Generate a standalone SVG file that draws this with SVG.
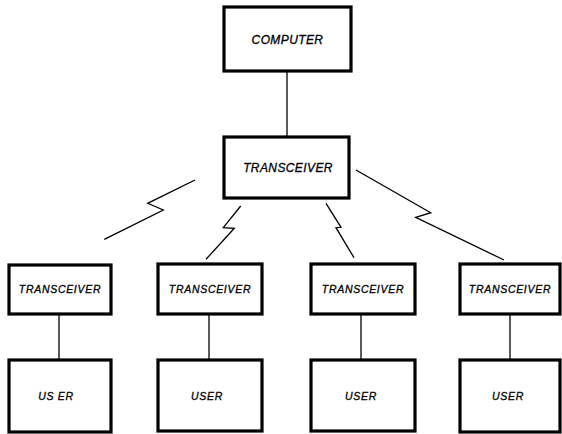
<svg xmlns="http://www.w3.org/2000/svg" width="562" height="434" viewBox="0 0 562 434">
<style>
.box{fill:#fff;stroke:#000;stroke-width:3.2}
.ln{fill:none;stroke:#000;stroke-width:1.3;stroke-linejoin:miter}
text{font-family:"Liberation Sans",Arial,sans-serif;font-style:italic;text-anchor:middle;fill:#000;stroke:#000;stroke-width:0.3}
.big{font-size:12px;letter-spacing:0.4px}
.sm{font-size:10.5px;letter-spacing:0.7px}
</style>
<rect width="562" height="434" fill="#fff"/>
<g id="connectors">
<line class="ln" x1="287" y1="71" x2="287" y2="137"/>
<polyline class="ln" points="195,180 147.7,203.3 163.3,210 104.3,239.3"/>
<polyline class="ln" points="240.7,206 223.3,227.7 234.3,228.3 206,259.3"/>
<polyline class="ln" points="326,203.3 341,227.3 336,227.7 354,257.7"/>
<polyline class="ln" points="356,170 430.7,212.7 415.7,217.3 504,260"/>
<line class="ln" x1="59" y1="314" x2="59" y2="360"/>
<line class="ln" x1="209" y1="314" x2="209" y2="360"/>
<line class="ln" x1="361" y1="314" x2="361" y2="360"/>
<line class="ln" x1="510" y1="314" x2="510" y2="360"/>
</g>
<g id="computer">
<rect class="box" x="224" y="7" width="127" height="64"/>
<text class="big" x="287.5" y="44">COMPUTER</text>
</g>
<g id="transceiver-main">
<rect class="box" x="224" y="137" width="125" height="61"/>
<text class="big" x="288" y="172">TRANSCEIVER</text>
</g>
<g id="transceiver-1">
<rect class="box" x="9" y="265" width="102" height="49"/>
<text class="sm" x="60" y="293">TRANSCEIVER</text>
</g>
<g id="transceiver-2">
<rect class="box" x="158" y="264" width="104" height="50"/>
<text class="sm" x="210" y="293">TRANSCEIVER</text>
</g>
<g id="transceiver-3">
<rect class="box" x="311" y="264" width="104" height="50"/>
<text class="sm" x="363" y="293">TRANSCEIVER</text>
</g>
<g id="transceiver-4">
<rect class="box" x="460" y="264" width="100" height="50"/>
<text class="sm" x="510" y="293">TRANSCEIVER</text>
</g>
<g id="user-1">
<rect class="box" x="9" y="360" width="102" height="72"/>
<text class="sm" x="56" y="400">US ER</text>
</g>
<g id="user-2">
<rect class="box" x="158" y="360" width="104" height="71"/>
<text class="sm" x="207" y="400">USER</text>
</g>
<g id="user-3">
<rect class="box" x="311" y="360" width="104" height="71"/>
<text class="sm" x="361" y="400">USER</text>
</g>
<g id="user-4">
<rect class="box" x="460" y="360" width="100" height="72"/>
<text class="sm" x="508" y="400">USER</text>
</g>
</svg>
